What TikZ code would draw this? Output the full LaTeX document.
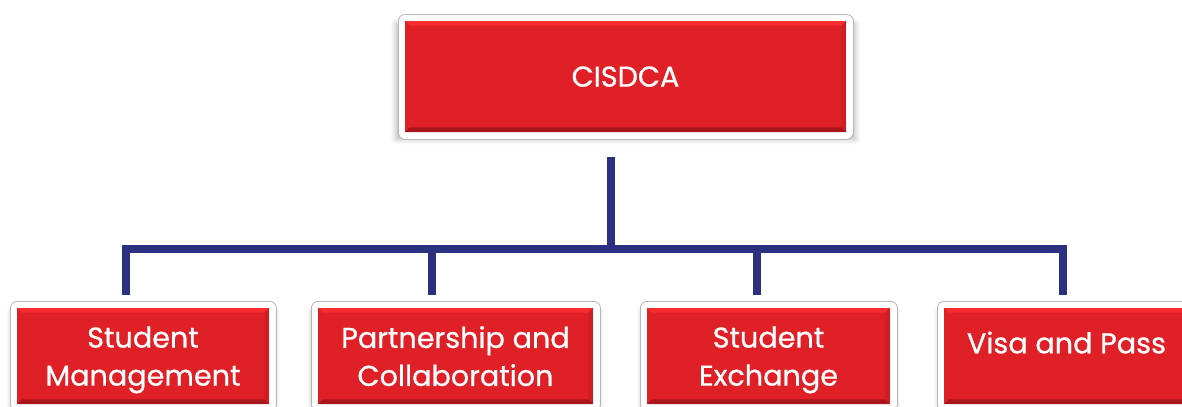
\documentclass[tikz,border=0pt]{standalone}
\usepackage{fontspec}
\setmainfont{Poppins}[FakeBold=0.7]
\usetikzlibrary{shadows.blur}

\definecolor{boxred}{RGB}{224,32,39}
\definecolor{boxlight}{RGB}{246,44,46}
\definecolor{boxdark}{RGB}{168,22,28}
\definecolor{linenavy}{RGB}{43,49,128}

\begin{document}
\begin{tikzpicture}[x=0.75pt, y=-0.75pt,
  unitbox/.style={rectangle, fill=boxred, text=white, inner sep=0pt, align=center, text depth=0pt,
    font=\fontsize{21.5}{28.5}\selectfont,
    blur shadow={shadow xshift=0pt, shadow yshift=-3.5pt, shadow blur radius=4pt, shadow scale=1.04, shadow opacity=30},
    preaction={draw=black!28, line width=11.25pt, line join=round},
    preaction={draw=white, line width=9.75pt, line join=round},
    path picture={
      \fill[boxlight] (path picture bounding box.north west) -- (path picture bounding box.north east)
        -- ([xshift=-3.5pt, yshift=-3.5pt]path picture bounding box.north east)
        -- ([xshift=3.5pt, yshift=-3.5pt]path picture bounding box.north west) -- cycle;
      \fill[boxdark] (path picture bounding box.south west) -- (path picture bounding box.south east)
        -- ([xshift=-3.5pt, yshift=3.5pt]path picture bounding box.south east)
        -- ([xshift=3.5pt, yshift=3.5pt]path picture bounding box.south west) -- cycle;
      \fill[boxred!85!black, opacity=0.5] (path picture bounding box.south east) -- (path picture bounding box.north east)
        -- ([xshift=-3.5pt, yshift=-3.5pt]path picture bounding box.north east)
        -- ([xshift=-3.5pt, yshift=3.5pt]path picture bounding box.south east) -- cycle;
    }},
  orgline/.style={draw=linenavy, line width=6pt}]
\useasboundingbox (0,0) rectangle (1182,407);

% head unit
\node[unitbox, minimum width=330.75pt, minimum height=83.25pt] (cisdca) at (625.5,76.5) {CISDCA};

% sections
\node[unitbox, minimum width=189pt, minimum height=72pt] (stud) at (143,356) {Student\\Management};
\node[unitbox, minimum width=206.25pt, minimum height=72pt] (part) at (455.5,356) {Partnership and\\Collaboration};
\node[unitbox, minimum width=182.25pt, minimum height=72pt] (exch) at (768.5,356) {Student\\Exchange};
\node[unitbox, minimum width=183.75pt, minimum height=72pt] (visa) at (1066.5,356) {\raisebox{2pt}[0pt][0pt]{Visa and Pass}};

% connector points
\coordinate (stem) at (610.5,157);
\coordinate (bar) at (610.5,249.3);
\coordinate (d1) at (126.3,295);
\coordinate (d2) at (432,295);
\coordinate (d3) at (756.5,295);
\coordinate (d4) at (1062.7,295);

\draw[orgline] (stem) -- (bar);
\draw[orgline] (d1) -- (d1 |- bar) -- (d4 |- bar) -- (d4);
\draw[orgline] (d2 |- bar) -- (d2);
\draw[orgline] (d3 |- bar) -- (d3);
\end{tikzpicture}
\end{document}
